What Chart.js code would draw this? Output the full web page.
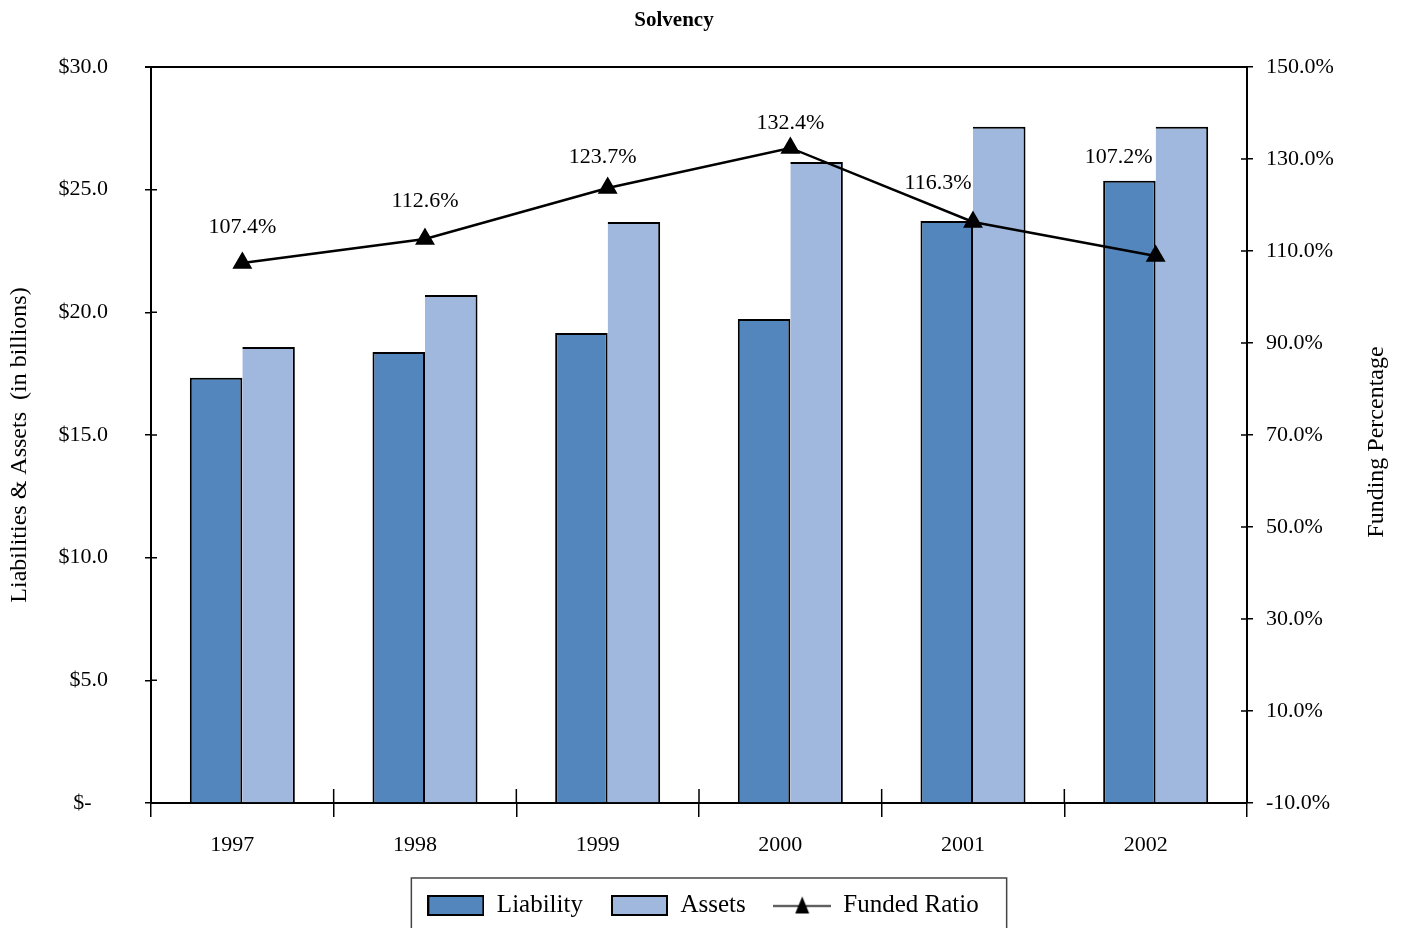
<!DOCTYPE html>
<html lang="en">
<head>
<meta charset="UTF-8">
<title>Solvency</title>
<script src="https://cdn.jsdelivr.net/npm/chart.js"></script>
<style>
  body { margin: 0; background: #fff; overflow: hidden; }
  .wrap { width: 1406px; height: 928px; position: relative; }
</style>
</head>
<body>
<div class="wrap"><canvas id="solvencyChart"></canvas></div>
<script>
// data
const years = ['1997', '1998', '1999', '2000', '2001', '2002'];
const liability = [17.33, 18.38, 19.16, 19.73, 23.72, 25.36];
const assets = [18.59, 20.71, 23.68, 26.13, 27.56, 27.56];
const fundedRatio = [107.4, 112.6, 123.7, 132.4, 116.3, 108.9];
const ratioLabels = ['107.4%', '112.6%', '123.7%', '132.4%', '116.3%', '107.2%'];
const dollarTicks = [0, 5, 10, 15, 20, 25, 30];
const pctTicks = [-10, 10, 30, 50, 70, 90, 110, 130, 150];

const FONT = "'Liberation Serif', 'Times New Roman', serif";
const LIAB_COLOR = '#5486be';
const ASSET_COLOR = '#a1b8de';

// legend icons
function swatch(color) {
  const c = document.createElement('canvas');
  c.width = 57; c.height = 21;
  const g = c.getContext('2d');
  g.fillStyle = color;
  g.fillRect(1, 1, 55, 19);
  g.strokeStyle = '#000';
  g.lineWidth = 2;
  g.strokeRect(1, 1, 55, 19);
  return c;
}
function lineIcon() {
  const c = document.createElement('canvas');
  c.width = 58; c.height = 22;
  const g = c.getContext('2d');
  g.strokeStyle = '#000';
  g.lineWidth = 1.5;
  g.beginPath();
  g.moveTo(0, 11.5); g.lineTo(58, 11.5);
  g.stroke();
  g.fillStyle = '#000';
  g.beginPath();
  g.moveTo(29, 2); g.lineTo(36, 19); g.lineTo(22, 19);
  g.closePath();
  g.fill();
  return c;
}

// label nudges for the ratio labels (px)
const labelNudge = [[0, -36], [0, -38], [-5, -31], [0, -25], [-35, -39], [-37, -99]];

const extras = {
  id: 'extras',
  afterDatasetsDraw(chart) {
    const ctx = chart.ctx;
    const meta = chart.getDatasetMeta(2);
    ctx.save();
    ctx.fillStyle = '#000';
    ctx.font = '22px ' + FONT;
    ctx.textAlign = 'center';
    ctx.textBaseline = 'middle';
    meta.data.forEach((pt, i) => {
      ctx.fillText(ratioLabels[i], pt.x + labelNudge[i][0], pt.y + labelNudge[i][1]);
    });
    ctx.restore();
  },
  afterDraw(chart) {
    const { ctx, chartArea: a, scales } = chart;
    ctx.save();
    ctx.strokeStyle = '#000';
    ctx.lineWidth = 1.5;
    ctx.beginPath();
    // inner halves of the tick marks
    scales.y.ticks.forEach(t => {
      const py = scales.y.getPixelForValue(t.value);
      ctx.moveTo(a.left, py); ctx.lineTo(a.left + 6, py);
    });
    scales.y1.ticks.forEach(t => {
      const py = scales.y1.getPixelForValue(t.value);
      ctx.moveTo(a.right - 6, py); ctx.lineTo(a.right, py);
    });
    for (let i = 1; i < years.length; i++) {
      const px = (scales.x.getPixelForValue(i - 1) + scales.x.getPixelForValue(i)) / 2;
      ctx.moveTo(px, a.bottom); ctx.lineTo(px, a.bottom - 14);
    }
    ctx.stroke();

    // top of the frame
    ctx.lineWidth = 2;
    ctx.beginPath();
    ctx.moveTo(a.left - 6, a.top); ctx.lineTo(a.right, a.top);
    ctx.stroke();

    // title
    ctx.fillStyle = '#000';
    ctx.textAlign = 'center';
    ctx.textBaseline = 'middle';
    ctx.font = 'bold 21px ' + FONT;
    ctx.fillText('Solvency', 674, 21);

    // axis titles, both reading bottom to top
    ctx.font = '24px ' + FONT;
    ctx.save();
    ctx.translate(20, 445);
    ctx.rotate(-Math.PI / 2);
    ctx.fillText('Liabilities & Assets  (in billions)', 0, 0);
    ctx.restore();
    ctx.translate(1377, 442);
    ctx.rotate(-Math.PI / 2);
    ctx.fillText('Funding Percentage', 0, 0);
    ctx.restore();

    // border round the legend
    const boxes = chart.legend.legendHitBoxes;
    if (boxes && boxes.length) {
      const left = Math.min(...boxes.map(b => b.left)) - 16;
      const right = Math.max(...boxes.map(b => b.left + b.width)) + 28;
      ctx.save();
      ctx.strokeStyle = '#444';
      ctx.lineWidth = 1.5;
      ctx.strokeRect(left, 878, right - left, 80);
      ctx.restore();
    }
  }
};

new Chart(document.getElementById('solvencyChart'), {
  data: {
    labels: years,
    datasets: [
      {
        type: 'bar',
        label: 'Liability',
        data: liability,
        backgroundColor: LIAB_COLOR,
        borderColor: '#000',
        borderWidth: 2,
        yAxisID: 'y',
        order: 1
      },
      {
        type: 'bar',
        label: 'Assets',
        data: assets,
        backgroundColor: ASSET_COLOR,
        borderColor: '#000',
        borderWidth: { top: 2, right: 2, bottom: 0, left: 0 },
        yAxisID: 'y',
        order: 1
      },
      {
        type: 'line',
        label: 'Funded Ratio',
        data: fundedRatio,
        borderColor: '#000',
        borderWidth: 2.5,
        pointStyle: 'triangle',
        pointRadius: 9,
        pointBackgroundColor: '#000',
        pointBorderColor: '#000',
        tension: 0,
        yAxisID: 'y1',
        order: 0
      }
    ]
  },
  options: {
    responsive: true,
    maintainAspectRatio: false,
    animation: false,
    layout: { padding: { top: 67, left: 0, right: 0, bottom: 0 } },
    datasets: {
      bar: { categoryPercentage: 0.575, barPercentage: 1.0 }
    },
    plugins: {
      title: { display: false },
      tooltip: { enabled: false },
      legend: {
        position: 'bottom',
        labels: {
          usePointStyle: true,
          pointStyleWidth: 57,
          boxHeight: 21,
          padding: 28,
          color: '#000',
          font: { family: FONT, size: 25 },
          generateLabels: () => [
            { text: 'Liability', pointStyle: swatch(LIAB_COLOR), datasetIndex: 0, lineWidth: 0, hidden: false },
            { text: 'Assets', pointStyle: swatch(ASSET_COLOR), datasetIndex: 1, lineWidth: 0, hidden: false },
            { text: 'Funded Ratio', pointStyle: lineIcon(), datasetIndex: 2, lineWidth: 0, hidden: false }
          ]
        }
      }
    },
    scales: {
      x: {
        offset: true,
        border: { display: true, color: '#000', width: 2 },
        grid: { display: true, drawOnChartArea: false, offset: true, color: '#000', lineWidth: 1.5, tickLength: 14 },
        ticks: { color: '#000', font: { family: FONT, size: 22 }, padding: 15, labelOffset: -10, maxRotation: 0 },
        afterFit: s => { s.height = 62; s.paddingLeft = 0; s.paddingRight = 0; }
      },
      y: {
        position: 'left',
        min: 0,
        max: 30,
        border: { display: true, color: '#000', width: 2 },
        grid: { display: true, drawOnChartArea: false, color: '#000', lineWidth: 1.5, tickLength: 6 },
        afterBuildTicks: s => { s.ticks = dollarTicks.map(v => ({ value: v })); },
        ticks: {
          color: '#000',
          font: { family: FONT, size: 22 },
          padding: 37,
          callback: v => v === 0 ? '$-   ' : '$' + v.toFixed(1)
        },
        afterFit: s => { s.width = 151; s.paddingTop = 0; s.paddingBottom = 0; }
      },
      y1: {
        position: 'right',
        min: -10,
        max: 150,
        border: { display: true, color: '#000', width: 2 },
        grid: { display: true, drawOnChartArea: false, color: '#000', lineWidth: 1.5, tickLength: 6 },
        afterBuildTicks: s => { s.ticks = pctTicks.map(v => ({ value: v })); },
        ticks: {
          color: '#000',
          font: { family: FONT, size: 22 },
          padding: 13,
          callback: v => v.toFixed(1) + '%'
        },
        afterFit: s => { s.width = 159; s.paddingTop = 0; s.paddingBottom = 0; }
      }
    }
  },
  plugins: [extras]
});
</script>
</body>
</html>
